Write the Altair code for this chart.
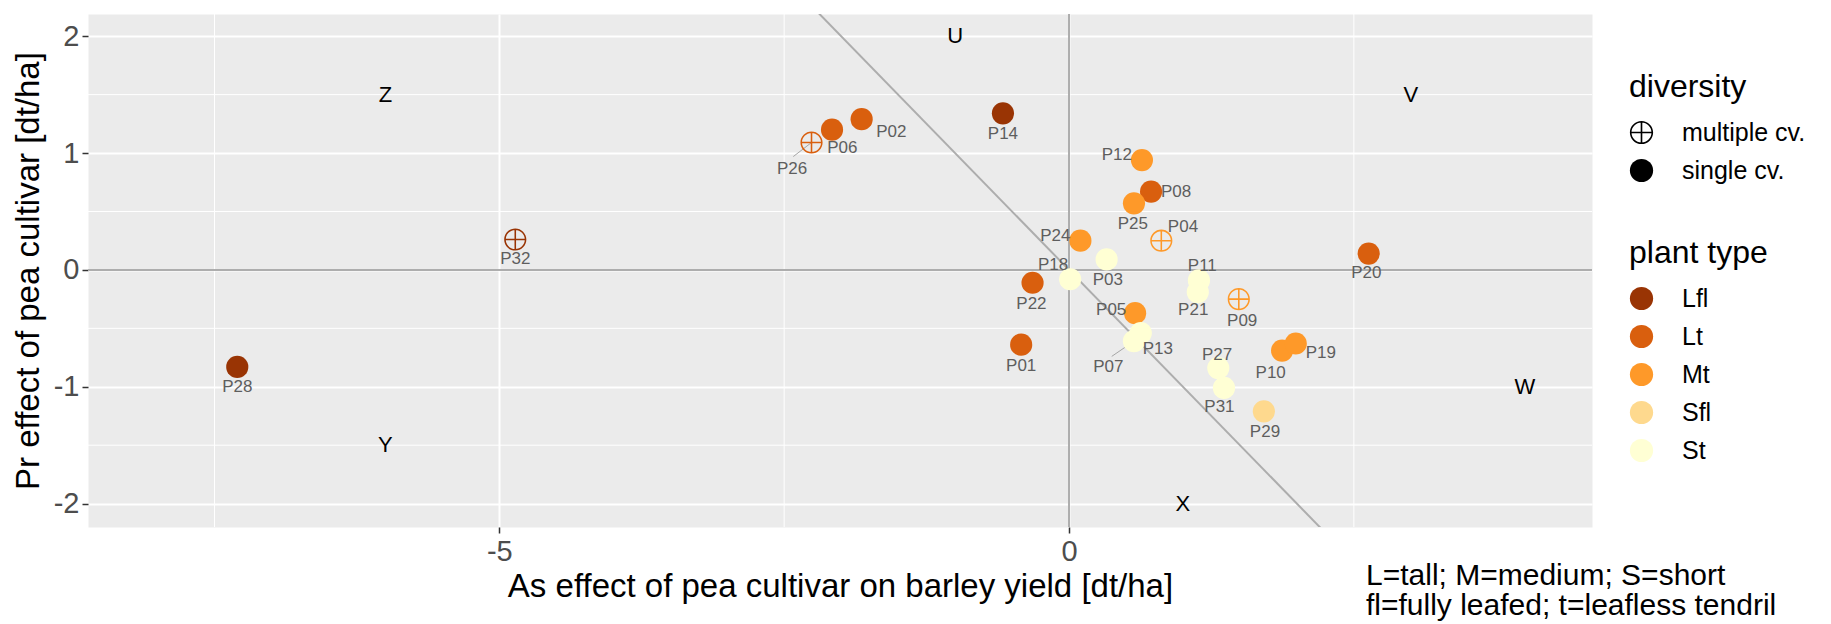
import altair as alt
import pandas as pd

# ---------------- data ----------------
ids = ["P01", "P02", "P03", "P04", "P05", "P06", "P07", "P08", "P09", "P10",
       "P11", "P12", "P13", "P14", "P18", "P19", "P20", "P21", "P22", "P24",
       "P25", "P26", "P27", "P28", "P29", "P31", "P32"]
x_vals = [-0.42, -1.82, 0.33, 0.81, 0.58, -2.08, 0.57, 0.72, 1.49, 1.87,
          1.14, 0.64, 0.63, -0.58, 0.01, 1.99, 2.63, 1.13, -0.32, 0.10,
          0.57, -2.26, 1.31, -7.30, 1.71, 1.36, -4.86]
y_vals = [-0.64, 1.29, 0.09, 0.25, -0.37, 1.20, -0.61, 0.67, -0.25, -0.69,
          -0.09, 0.94, -0.54, 1.34, -0.08, -0.63, 0.14, -0.19, -0.11, 0.25,
          0.57, 1.09, -0.84, -0.83, -1.21, -1.01, 0.26]
plant_types = ["Lt", "Lt", "St", "Mt", "Mt", "Lt", "St", "Lt", "Mt", "Mt",
               "St", "Mt", "St", "Lfl", "St", "Mt", "Lt", "St", "Lt", "Mt",
               "Mt", "Lt", "St", "Lfl", "Sfl", "St", "Lfl"]
diversity = ["single cv.", "single cv.", "single cv.", "multiple cv.", "single cv.",
             "single cv.", "single cv.", "single cv.", "multiple cv.", "single cv.",
             "single cv.", "single cv.", "single cv.", "single cv.", "single cv.",
             "single cv.", "single cv.", "single cv.", "single cv.", "single cv.",
             "single cv.", "multiple cv.", "single cv.", "single cv.", "single cv.",
             "single cv.", "multiple cv."]
label_x = [-0.42, -1.56, 0.34, 1.00, 0.37, -1.99, 0.345, 0.94, 1.52, 1.77,
           1.17, 0.42, 0.78, -0.58, -0.14, 2.21, 2.61, 1.09, -0.33, -0.12,
           0.56, -2.43, 1.30, -7.30, 1.72, 1.32, -4.86]
label_y = [-0.82, 1.18, -0.09, 0.37, -0.34, 1.04, -0.83, 0.67, -0.44, -0.88,
           0.03, 0.98, -0.68, 1.16, 0.04, -0.71, -0.03, -0.34, -0.29, 0.29,
           0.39, 0.86, -0.73, -1.005, -1.39, -1.17, 0.09]

# repel segments (label end -> point)
seg_x = [-2.42, 0.375]
seg_y = [0.97, -0.74]
seg_x2 = [-2.26, 0.57]
seg_y2 = [1.09, -0.61]

quad_text = ["U", "V", "W", "X", "Y", "Z"]
quad_x = [-1, 3, 4, 1, -6, -6]
quad_y = [2, 1.5, -1, -2, -1.5, 1.5]

type_domain = ["Lfl", "Lt", "Mt", "Sfl", "St"]
type_colors = ["#993404", "#D95F0E", "#FE9929", "#FED98E", "#FFFFD4"]
div_domain = ["multiple cv.", "single cv."]

x_ticks = [-5, 0]
y_ticks = [-2, -1, 0, 1, 2]
x_minor = [-7.5, -2.5, 2.5]
y_minor = [-1.5, -0.5, 0.5, 1.5]
x_domain = [-8.61, 4.59]
y_domain = [-2.2, 2.19]

diag_x = [-3, 3]
diag_y = [3, -3]

caption = ["L=tall; M=medium; S=short", "fl=fully leafed; t=leafless tendril"]

# ---------------- build ----------------
FONT = "Liberation Sans"
PLUS = ("M1,0A1,1,0,1,1,-1,0A1,1,0,1,1,1,0Z"
        "M0.86,0A0.86,0.86,0,1,0,-0.86,0A0.86,0.86,0,1,0,0.86,0Z"
        "M-0.9,-0.07L0.9,-0.07L0.9,0.07L-0.9,0.07Z"
        "M-0.07,-0.9L0.07,-0.9L0.07,0.9L-0.07,0.9Z")

pts = pd.DataFrame({"id": ids, "x": x_vals, "y": y_vals,
                    "type": plant_types, "diversity": diversity})
labs = pd.DataFrame({"id": ids, "x": label_x, "y": label_y})
segs = pd.DataFrame({"x": seg_x, "y": seg_y, "x2": seg_x2, "y2": seg_y2})
quads = pd.DataFrame({"t": quad_text, "x": quad_x, "y": quad_y})
vminor = pd.DataFrame({"x": x_minor})
hminor = pd.DataFrame({"y": y_minor})
zero_df = pd.DataFrame({"x": [0], "y": [0]})
diag = pd.DataFrame({"x": diag_x, "y": diag_y})

xscale = alt.Scale(domain=x_domain, nice=False, zero=False)
yscale = alt.Scale(domain=y_domain, nice=False, zero=False)

axis_common = dict(grid=True, gridColor="white", gridWidth=2, domain=False,
                   tickColor="#333333", tickSize=6, tickWidth=1.5,
                   labelFontSize=29, labelColor="#4D4D4D", labelFont=FONT,
                   titleFontSize=33, titleColor="black", titleFont=FONT,
                   titleFontWeight="normal", labelExpr="'' + datum.value")
xaxis = alt.Axis(values=x_ticks, labelPadding=4, titlePadding=4, **axis_common)
yaxis = alt.Axis(values=y_ticks, labelPadding=3, titlePadding=8, **axis_common)
XT = "As effect of pea cultivar on barley yield [dt/ha]"
YT = "Pr effect of pea cultivar [dt/ha]"


def X(f="x"):
    return alt.X(f"{f}:Q", scale=xscale, axis=xaxis, title=XT)


def Y(f="y"):
    return alt.Y(f"{f}:Q", scale=yscale, axis=yaxis, title=YT)


legend_common = dict(orient="none", legendX=1541, symbolSize=540,
                     titleFontSize=32, labelFontSize=25,
                     titleFont=FONT, labelFont=FONT,
                     titleFontWeight="normal", titleColor="black",
                     labelColor="black", titlePadding=16,
                     rowPadding=12, labelOffset=28, padding=0,
                     symbolStrokeWidth=0)

minor_v = alt.Chart(vminor).mark_rule(color="white", strokeWidth=1).encode(x=X())
minor_h = alt.Chart(hminor).mark_rule(color="white", strokeWidth=1).encode(y=Y())
zero_v = alt.Chart(zero_df).mark_rule(color="#ADADAD", strokeWidth=2).encode(x=X())
zero_h = alt.Chart(zero_df).mark_rule(color="#ADADAD", strokeWidth=2).encode(y=Y())
diag_line = alt.Chart(diag).mark_line(color="#ADADAD", strokeWidth=2, clip=True).encode(
    x=X(), y=Y())
seg_rules = alt.Chart(segs).mark_rule(color="#A6A6A6", strokeWidth=1).encode(
    x=X(), y=Y(), x2="x2:Q", y2="y2:Q")

points = alt.Chart(pts).mark_point(filled=True, size=491, opacity=1, color="black").encode(
    x=X(), y=Y(),
    color=alt.Color("type:N",
                    scale=alt.Scale(domain=type_domain, range=type_colors),
                    legend=alt.Legend(title="plant type", legendY=224,
                                      symbolType="circle", **legend_common)),
    shape=alt.Shape("diversity:N",
                    scale=alt.Scale(domain=div_domain, range=[PLUS, "circle"]),
                    legend=alt.Legend(title="diversity", legendY=58,
                                      symbolFillColor="black", **legend_common)),
)

point_labels = alt.Chart(labs).mark_text(fontSize=17, color="#5E5E5E", font=FONT).encode(
    x=X(), y=Y(), text="id:N")

quad_labels = alt.Chart(quads).mark_text(fontSize=22, color="black", font=FONT).encode(
    x=X(), y=Y(), text="t:N")

chart = alt.layer(
    minor_v, minor_h, zero_v, zero_h, diag_line, seg_rules, points, point_labels, quad_labels
).properties(
    width=1504, height=513,
    autosize=alt.AutoSizeParams(type="none"),
    padding={"left": 80, "top": 6, "right": 231, "bottom": 97},
    title=alt.TitleParams(text=caption, orient="bottom", anchor="start", frame="group",
                          dx=1278, offset=-42, fontSize=30, lineHeight=30,
                          fontWeight="normal", color="black", font=FONT, align="left"),
).configure(
    background="white",
    view=alt.ViewConfig(fill="#EBEBEB", stroke="transparent"),
)

chart.save("out.html", embed_options={"renderer": "svg", "actions": False})
